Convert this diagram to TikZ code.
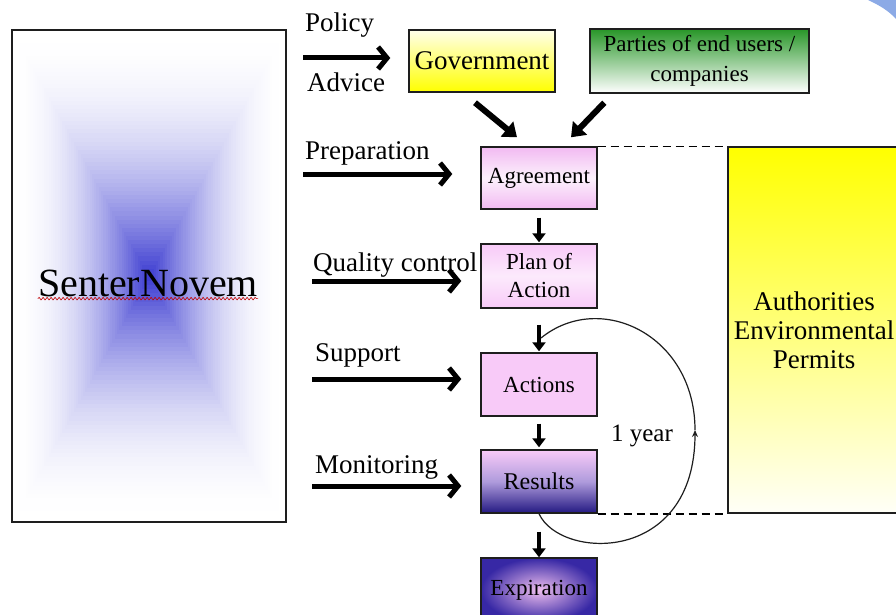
\documentclass[tikz,border=0pt]{standalone}
\usepackage{fontspec}
\setmainfont{Liberation Serif}
\usetikzlibrary{arrows.meta,decorations.pathmorphing}
\definecolor{senblue}{RGB}{45,45,205}
\definecolor{pinkA}{RGB}{242,186,242}
\definecolor{pinkB}{RGB}{248,202,248}
\definecolor{navyR}{RGB}{35,25,130}
\definecolor{lavR}{RGB}{175,155,220}
\definecolor{expOut}{RGB}{55,40,165}
\definecolor{expIn}{RGB}{238,190,238}
\definecolor{partiesgreen}{RGB}{40,150,40}
\definecolor{cornerblue}{RGB}{140,170,230}
\definecolor{boxline}{RGB}{30,30,30}
\tikzset{
  box/.style={draw=boxline, line width=1.4pt, inner sep=2pt, align=center,
    minimum width=116pt, minimum height=63pt, font=\fontsize{23}{28}\selectfont},
  sidelabel/.style={anchor=base west, inner sep=0pt, font=\fontsize{27}{30}\selectfont},
  bigarrow/.style={line width=5pt, -{Straight Barb[length=9pt,width=22pt]}},
  diagarrow/.style={line width=6pt, -{Triangle[length=13pt,width=19pt]}},
  downarrow/.style={line width=4pt, -{Triangle[length=9pt,width=13pt]}},
  dashline/.style={line width=1.6pt, dash pattern=on 8pt off 5pt},
  loopline/.style={line width=1.2pt, draw=boxline}
}
\begin{document}
\begin{tikzpicture}[x=1pt,y=-1pt]
\useasboundingbox (0,0) rectangle (896,615);
\clip (0,0) rectangle (896,615);
\fill[white] (0,0) rectangle (896,615);
% corner decoration
\fill[cornerblue] (868,0) .. controls (879,5) and (889,11) .. (896,19) -- (896,0) -- cycle;

% SenterNovem gradient
\foreach \i in {0,...,59} {
  \pgfmathsetmacro\f{\i/60}
  \pgfmathsetmacro\p{95*\f*\f}
  \fill[senblue!\p!white] ({149-137*(1-\f)},{277-246*(1-\f)}) rectangle ({149+137*(1-\f)},{277+246*(1-\f)});
}
\node[draw=boxline, line width=1.4pt, minimum width=274pt, minimum height=492pt] (sen) at (149,276) {};
\node[inner sep=0pt, font=\fontsize{40}{44}\selectfont] (sentxt) at (148,283) {SenterNovem};
\draw[red!75!black, line width=0.6pt, decorate, decoration={snake, amplitude=1.3pt, segment length=4pt}]
  ([yshift=-2pt]sentxt.south west) -- ([yshift=-2pt]sentxt.south east);

% top boxes
\node[box, minimum width=146pt, minimum height=62pt, top color=white!92!yellow, bottom color=yellow,
  font=\fontsize{27}{30}\selectfont] (gov) at (482,61) {Government};
\node[box, minimum width=219pt, minimum height=64pt, top color=partiesgreen, bottom color=white,
  font=\fontsize{23}{30}\selectfont] (par) at (699.5,61) {Parties of end users /\\companies};

% chain boxes
\node[box, minimum height=62pt, top color=pinkA, bottom color=pinkA, middle color=white!80!pinkA] (agr) at (539,178) {Agreement};
\node[box, minimum height=64pt, top color=pinkB, bottom color=pinkB, middle color=white!60!pinkB] (pln) at (539,276) {Plan of\\Action};
\node[box, top color=pinkB, bottom color=pinkB] (act) at (539,384.5) {Actions};
\node[box, top color=pinkB, bottom color=navyR, middle color=lavR, font=\fontsize{24}{28}\selectfont] (res) at (539,481.5) {Results};
\node[box, minimum height=64pt, inner color=expIn, outer color=expOut] (exp) at (539,590) {Expiration};

% authorities box
\node[draw=boxline, line width=1.4pt, minimum width=172pt, minimum height=366pt, top color=yellow,
  bottom color=white!97!yellow, align=center, font=\fontsize{27}{29}\selectfont] (auth) at (814,330)
  {Authorities\\Environmental\\Permits};

% dashed lines
\draw[dashline] (agr.north east) -- (auth.north west);
\draw[dashline] (res.south east) -- (auth.south west);

% side labels
\node[sidelabel] (polT) at (305,32) {Policy};
\node[sidelabel] (advT) at (307,92) {Advice};
\node[sidelabel] (prepT) at (305,159) {Preparation};
\node[sidelabel] (qcT) at (313,271) {Quality control};
\node[sidelabel] (supT) at (315,361) {Support};
\node[sidelabel] (monT) at (315,473) {Monitoring};

% side arrows
\coordinate (polS) at (303,58);
\coordinate (prepS) at (303,174);
\coordinate (qcS) at (312,281);
\coordinate (supS) at (312,379);
\coordinate (monS) at (312,486);
\draw[bigarrow, shorten >=18pt] (polS) -- (polS -| gov.west);
\draw[bigarrow, shorten >=28pt] (prepS) -- (prepS -| agr.west);
\draw[bigarrow, shorten >=19pt] (qcS) -- (qcS -| pln.west);
\draw[bigarrow, shorten >=19pt] (supS) -- (supS -| act.west);
\draw[bigarrow, shorten >=19pt] (monS) -- (monS -| res.west);

% diagonal arrows
\draw[diagarrow] ([shift={(-7,10)}]gov.south) -- ([shift={(-22,-9)}]agr.north);
\draw[diagarrow] ([shift={(15,9)}]par.south west) -- ([shift={(32,-9)}]agr.north);

% down arrows
\draw[downarrow, shorten <=8pt, shorten >=1pt] (agr.south) -- (pln.north);
\draw[downarrow, shorten <=16pt, shorten >=1pt] (pln.south) -- (act.north);
\draw[downarrow, shorten <=7pt, shorten >=2pt] (act.south) -- (res.north);
\draw[downarrow, shorten <=18pt, shorten >=0pt] (res.south) -- (exp.north);

% yearly loop
\coordinate (loopR) at (695,430);
\coordinate (loopEnd) at (541,338);
\draw[loopline, -{Stealth[length=7pt,width=6pt]}] (res.south) .. controls (560,560) and (695,565) .. (loopR);
\draw[loopline] (loopR) .. controls (695,335) and (600,290) .. (loopEnd);
\node[font=\fontsize{25}{28}\selectfont, inner sep=0pt] (yearT) at (642,436) {1 year};
\end{tikzpicture}
\end{document}
